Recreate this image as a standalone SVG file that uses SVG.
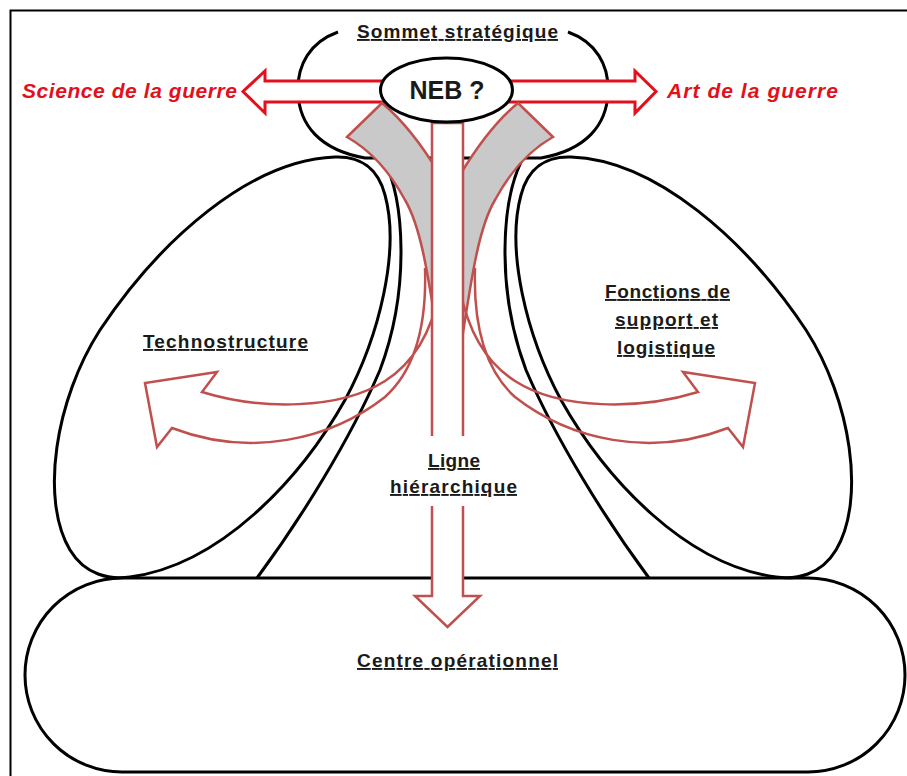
<svg xmlns="http://www.w3.org/2000/svg" width="907" height="776" viewBox="0 0 907 776">
<style>
.blk{fill:none;stroke:#000;stroke-width:3}
.lbl{font-family:"Liberation Sans",Arial,sans-serif;font-weight:bold;font-size:19px;text-decoration:underline;fill:#1a1a1a}
.war{font-family:"Liberation Sans",Arial,sans-serif;font-weight:bold;font-style:italic;font-size:21px;fill:#e3101c}
.harrow{fill:#fff;stroke:#e3101c;stroke-width:3}
.carrow{fill:none;stroke:#c0504d;stroke-width:2.5}
.back{fill:#c9c9c9;stroke:#c0504d;stroke-width:2.5}
.varrow{fill:#fff;stroke:#c0504d;stroke-width:2.5}
</style>
<rect x="0" y="0" width="907" height="776" fill="#fff"/>
<rect x="10.5" y="10.5" width="1000" height="1000" fill="none" stroke="#000" stroke-width="2"/>

<g id="centre-operationnel">
<rect class="blk" x="25" y="578" width="880" height="194" rx="97" ry="97"/>
<text class="lbl" x="457.5" y="667" text-anchor="middle" textLength="201">Centre opérationnel</text>
</g>

<g id="technostructure">
<path class="blk" d="M335,157 C250,160 160,240 100,330 C55,400 40,500 70,550 C85,575 110,580 130,577 C220,565 300,480 345,400 C380,335 400,250 385,195 C378,168 360,156 335,157 Z"/>
<text class="lbl" x="143" y="348" textLength="165">Technostructure</text>
</g>

<g id="fonctions-support">
<path class="blk" transform="matrix(-1 0 0 1 906 0)" d="M335,157 C250,160 160,240 100,330 C55,400 40,500 70,550 C85,575 110,580 130,577 C220,565 300,480 345,400 C380,335 400,250 385,195 C378,168 360,156 335,157 Z"/>
<text class="lbl" x="667.5" y="298" text-anchor="middle" textLength="125">Fonctions de</text>
<text class="lbl" x="666.5" y="326" text-anchor="middle" textLength="103">support et</text>
<text class="lbl" x="666" y="354" text-anchor="middle" textLength="98">logistique</text>
</g>

<g id="ligne-hierarchique-zone">
<path class="blk" d="M383,158 C405,200 410,290 380,370 C350,440 300,520 257,578"/>
<path class="blk" d="M523,158 C501,200 496,290 526,370 C556,440 606,520 649,578"/>
</g>

<g id="sommet-strategique">
<path class="blk" d="M338,32 C310,42 297,65 298,92 C299,125 320,150 365,158 L541,158 C586,150 607,125 608,92 C609,65 596,42 568,32"/>
<text class="lbl" x="457.5" y="38" text-anchor="middle" textLength="201">Sommet stratégique</text>
</g>

<g id="connectors">
<polygon class="harrow" points="400,81 265,81 265,71 243,91.5 265,113 265,102 400,102"/>
<polygon class="harrow" points="495,81 635,81 635,71 656,91.5 635,113 635,102 495,102"/>
<path class="back" d="M347,137 L382,103 C405,122 425,150 440,175 L440,352 C430,290 423,230 405,200 C390,172 370,150 347,137 Z"/>
<path class="carrow" d="M440,290 C432,330 415,362 385,381 C340,410 260,410 202,392 L217,372 L145,383 L157,447 L172,428 C250,458 330,440 385,397 C413,372 427,330 425,268"/>
<g transform="matrix(-1 0 0 1 900 0)">
<path class="back" d="M347,137 L382,103 C405,122 425,150 440,175 L440,352 C430,290 423,230 405,200 C390,172 370,150 347,137 Z"/>
<path class="carrow" d="M440,290 C432,330 415,362 385,381 C340,410 260,410 202,392 L217,372 L145,383 L157,447 L172,428 C250,458 330,440 385,397 C413,372 427,330 425,268"/>
</g>
<polygon class="varrow" points="432,123 463,123 463,596 480,596 447.5,627 415,596 432,596"/>
<rect x="429" y="436" width="38" height="70" fill="#fff"/>
</g>

<g id="neb">
<ellipse cx="446.5" cy="90" rx="66" ry="32" fill="#fff" stroke="#000" stroke-width="3"/>
<text x="447" y="99" text-anchor="middle" font-family="Liberation Sans, Arial, sans-serif" font-weight="bold" font-size="25" fill="#1a1a1a">NEB ?</text>
</g>

<g id="labels">
<text class="war" x="22" y="98" textLength="215">Science de la guerre</text>
<text class="war" x="667" y="98" textLength="171">Art de la guerre</text>
<text class="lbl" x="454" y="467" text-anchor="middle" textLength="52">Ligne</text>
<text class="lbl" x="453.5" y="493" text-anchor="middle" textLength="127">hiérarchique</text>
</g>
</svg>
